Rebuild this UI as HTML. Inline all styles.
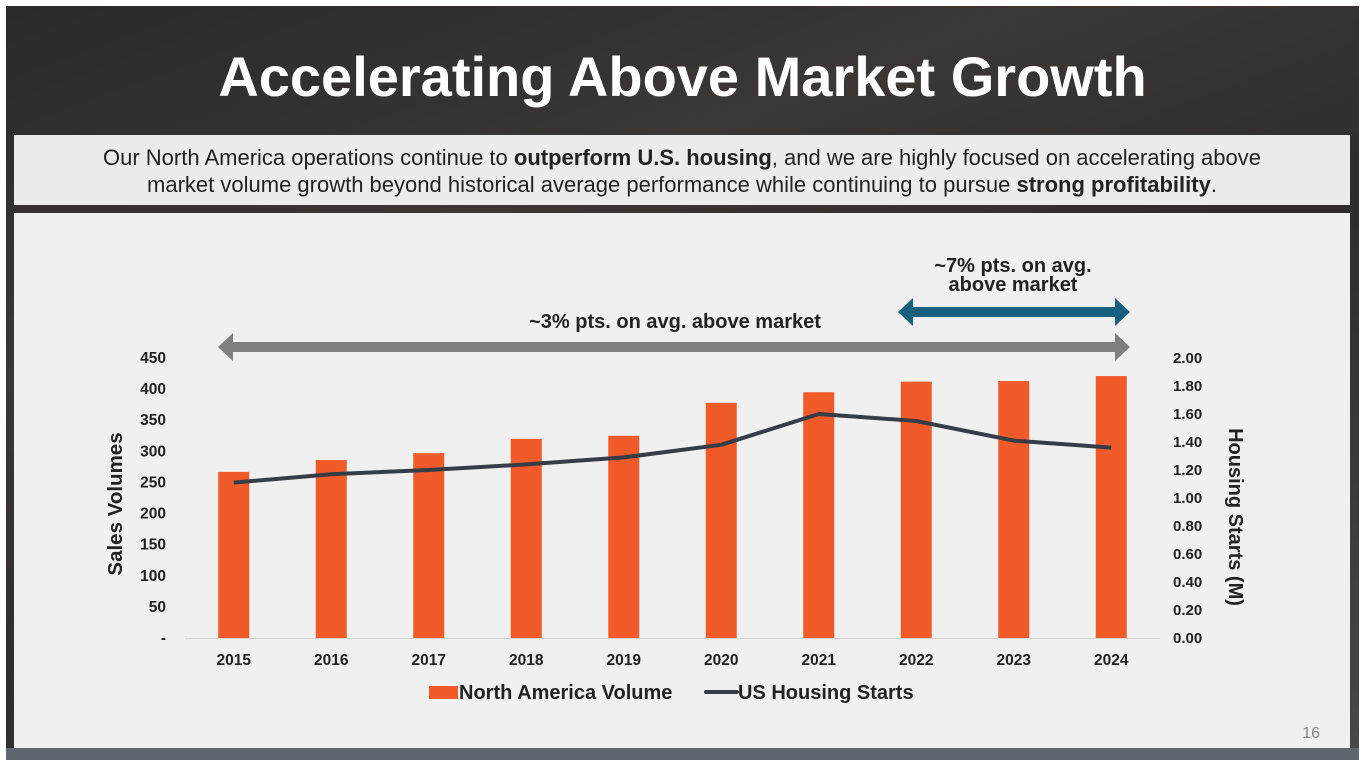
<!DOCTYPE html>
<html><head><meta charset="utf-8">
<style>
html,body{margin:0;padding:0;width:1365px;height:768px;overflow:hidden;background:#fff;font-family:"Liberation Sans",Arial,sans-serif;}
#bg{position:absolute;left:6px;top:6px;width:1353px;height:754px;background:linear-gradient(160deg,#2a2a2a 0%,#3a3735 30%,#2f2d2c 55%,#4a4846 100%);}
#title{position:absolute;left:0;top:44px;width:1365px;text-align:center;color:#fff;font-weight:bold;font-size:56px;}
#sub{position:absolute;left:14px;top:135px;width:1336px;height:70px;background:#ececec;color:#222;font-size:22px;text-align:center;line-height:27px;box-sizing:border-box;padding-top:9px;}
#panel{position:absolute;left:14px;top:213px;width:1336px;height:536px;background:#f0f0f0;}
#frame{position:absolute;left:6px;top:748px;width:1353px;height:12px;background:#5f666d;}
svg{position:absolute;left:0;top:0;}
</style></head><body>
<div id="bg"></div>
<div id="title">Accelerating Above Market Growth</div>
<div id="sub">Our North America operations continue to <b>outperform U.S. housing</b>, and we are highly focused on accelerating above<br>market volume growth beyond historical average performance while continuing to pursue <b>strong profitability</b>.</div>
<div id="panel"></div>
<div id="frame"></div>
<svg id="chart" width="1365" height="768"></svg>
<script>
const categories=["2015","2016","2017","2018","2019","2020","2021","2022","2023","2024"];
const volumes=[267,286,297,320,325,378,395,412,413,421];
const housing=[1.11,1.17,1.20,1.24,1.29,1.38,1.60,1.55,1.41,1.36];
const leftTicks=[0,50,100,150,200,250,300,350,400,450];
const rightTicks=[0,0.2,0.4,0.6,0.8,1.0,1.2,1.4,1.6,1.8,2.0];

const svg=document.getElementById('chart');
const NS='http://www.w3.org/2000/svg';
const plotL=185,plotR=1160,y0=638,yTop=358;
const step=(plotR-plotL)/categories.length;
const xC=i=>plotL+step*(i+0.5);
const yL=v=>y0-(v/450)*(y0-yTop);
const yR=v=>y0-(v/2)*(y0-yTop);
function mk(t,a,txt){const e=document.createElementNS(NS,t);for(const k in a)e.setAttribute(k,a[k]);if(txt!=null)e.textContent=txt;svg.appendChild(e);return e;}

let ax=mk('line',{x1:plotL,y1:y0+0.5,x2:plotR,y2:y0+0.5,stroke:'#d4d4d4','stroke-width':1});



leftTicks.forEach(v=>{
  const t=mk('text',{x:166,y:yL(v)+5,'text-anchor':'end','font-size':15.5,'font-weight':'bold',fill:'#222'},v===0?'-':String(v));
  
  
});
rightTicks.forEach(v=>{
  const t=mk('text',{x:1173,y:yR(v)+5,'font-size':15,'font-weight':'bold',fill:'#222'},v.toFixed(2));
  
  
});
categories.forEach((c,i)=>{
  const b=mk('rect',{x:xC(i)-15.5,y:yL(volumes[i]),width:31,height:y0-yL(volumes[i]),fill:'#f15a29'});
  
  
  const t=mk('text',{x:xC(i),y:665,'text-anchor':'middle','font-size':15.5,'font-weight':'bold',fill:'#222'},c);
  
  
});
const pts=housing.map((v,i)=>xC(i)+','+yR(v)).join(' ');
const ln=mk('polyline',{points:pts,fill:'none',stroke:'#363d47','stroke-width':4,'stroke-linejoin':'round'});



let yt=mk('text',{x:0,y:0,transform:'translate(122,504) rotate(-90)','text-anchor':'middle','font-size':20.5,'font-weight':'bold',fill:'#222'},'Sales Volumes');


let yt2=mk('text',{x:0,y:0,transform:'translate(1229,517) rotate(90)','text-anchor':'middle','font-size':20,'font-weight':'bold',fill:'#222'},'Housing Starts (M)');



function arrow(x1,x2,y,h,head,fill,name){
  const p=`M${x1},${y} L${x1+head},${y-h} L${x1+head},${y-5} L${x2-head},${y-5} L${x2-head},${y-h} L${x2},${y} L${x2-head},${y+h} L${x2-head},${y+5} L${x1+head},${y+5} L${x1+head},${y+h} Z`;
  const e=mk('path',{d:p,fill:fill});
  
  
}
arrow(218,1130,347,14,15,'#7f7f7f','gray-range-arrow');
arrow(898,1130,312,14,15,'#17607f','blue-range-arrow');
let a1=mk('text',{x:675,y:328,'text-anchor':'middle','font-size':20,'font-weight':'bold',fill:'#222'},'~3% pts. on avg. above market');


let a2=mk('text',{x:1013,y:272,'text-anchor':'middle','font-size':20,'font-weight':'bold',fill:'#222'},'~7% pts. on avg.');


let a3=mk('text',{x:1013,y:291,'text-anchor':'middle','font-size':20,'font-weight':'bold',fill:'#222'},'above market');



let l1=mk('rect',{x:429,y:686,width:29,height:13,fill:'#f15a29'});


let l2=mk('text',{x:459,y:699,'font-size':20,'font-weight':'bold',fill:'#222'},'North America Volume');


let l3=mk('line',{x1:706,y1:692,x2:737,y2:692,stroke:'#363d47','stroke-width':4,'stroke-linecap':'round'});


let l4=mk('text',{x:738,y:699,'font-size':20,'font-weight':'bold',fill:'#222'},'US Housing Starts');


let pn=mk('text',{x:1320,y:738,'text-anchor':'end','font-size':16,fill:'#888'},'16');


</script>
</body></html>
